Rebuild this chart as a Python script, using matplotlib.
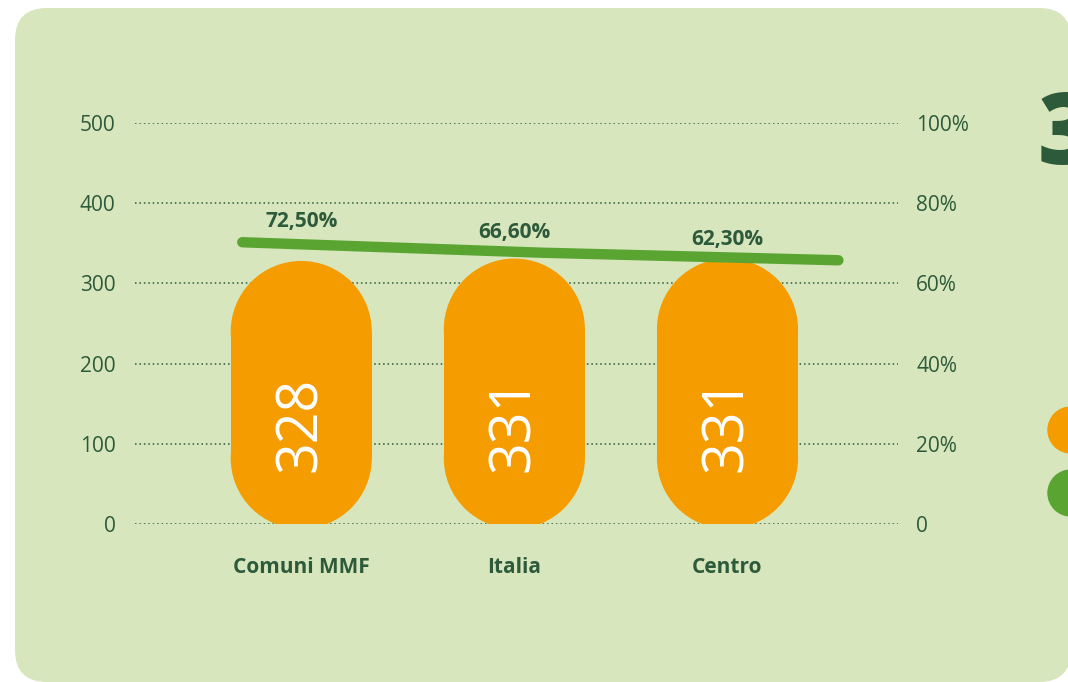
import matplotlib.pyplot as plt
import matplotlib.patches as mpatches
import matplotlib.transforms as mtransforms
import numpy as np

# data
categories = ["Comuni MMF", "Italia", "Centro"]
bar_values = [328, 331, 331]
pct_values = [72.5, 66.6, 62.3]
pct_labels = ["72,50%", "66,60%", "62,30%"]
left_ticks = [0, 100, 200, 300, 400, 500]
right_ticks = ["0", "20%", "40%", "60%", "80%", "100%"]

# colours
bg = "#d7e6bc"
orange = "#f59c00"
green = "#5aa532"
dark = "#2e5a3c"

plt.rcParams['font.family'] = ['Open Sans', 'DejaVu Sans']

W, H = 1068, 682
fig = plt.figure(figsize=(10.68, 6.82), dpi=100)
fig.patch.set_facecolor("white")

# background layer in pixel coordinates
bgax = fig.add_axes([0, 0, 1, 1], zorder=-5)
bgax.set_xlim(0, W)
bgax.set_ylim(H, 0)
bgax.axis("off")
bgax.add_patch(mpatches.FancyBboxPatch((15, 8), 1056, 674,
                                       boxstyle="round,pad=0,rounding_size=32",
                                       facecolor=bg, edgecolor="none"))
bgax.add_patch(mpatches.Circle((1071, 430), 23, color=orange))
bgax.add_patch(mpatches.Circle((1071, 493), 23, color=green))
bgax.text(1038, 138, "3", fontsize=72, fontweight="heavy", color=dark,
          ha="left", va="center", fontstretch="condensed")

ax = fig.add_axes([135 / W, 158 / H, (898 - 135) / W, 401 / H])
ax.set_facecolor("none")
ax.set_xlim(-0.78, 2.80)
ax.set_ylim(0, 500)
for s in ax.spines.values():
    s.set_visible(False)

x = np.arange(len(categories))

# dotted grid
for t in left_ticks:
    ax.plot([-0.78, 2.80], [t, t], color=dark, lw=1.1, ls=(0, (1, 1.9)), zorder=1)

ax.set_yticks(left_ticks)
ax.set_yticklabels([str(t) for t in left_ticks], fontsize=15, color=dark)
ax.tick_params(axis="y", length=0, pad=14)
ax.set_xticks(x)
ax.set_xticklabels(categories, fontsize=15, color=dark, fontweight="bold")
ax.tick_params(axis="x", length=0, pad=24)

axr = ax.twinx()
axr.set_ylim(0, 100)
axr.set_yticks(np.linspace(0, 100, 6))
axr.set_yticklabels(right_ticks, fontsize=15, color=dark)
axr.tick_params(axis="y", length=0, pad=13)
for s in axr.spines.values():
    s.set_visible(False)

# pill shaped bars: body plus two half round ends
bw = 0.662
px_x = (898 - 135) / 3.58
px_y = 401 / 500
ry = (bw / 2) * px_x / px_y
base = -6
for xi, v in zip(x, bar_values):
    top = v
    ax.add_patch(mpatches.Rectangle((xi - bw / 2, base + ry), bw, top - base - 2 * ry,
                                    facecolor=orange, edgecolor="none", zorder=3))
    ax.add_patch(mpatches.Ellipse((xi, top - ry), bw, 2 * ry,
                                  facecolor=orange, edgecolor="none", zorder=3))
    ax.add_patch(mpatches.Ellipse((xi, base + ry), bw, 2 * ry,
                                  facecolor=orange, edgecolor="none", zorder=3))
    ax.text(xi, 65, str(v), rotation=90, rotation_mode="anchor",
            ha="left", va="center", color="white", fontsize=40,
            fontweight="normal", zorder=4)

# line on its own hidden scale
axl = fig.add_axes(ax.get_position())
axl.set_facecolor("none")
axl.set_xlim(-0.36, 2.2)
axl.set_ylim(-87, 140)
axl.axis("off")
axl.plot(x, pct_values, color=green, lw=7.5, solid_capstyle="round", zorder=5)

trans = mtransforms.blended_transform_factory(ax.transData, axl.transData)
for xi, v, lab in zip(x, pct_values, pct_labels):
    axl.text(xi, v + 11.5, lab, transform=trans, ha="center", va="center",
             fontsize=15, fontweight="bold", color=dark)

fig.savefig("out.png", dpi=100, facecolor="white")
